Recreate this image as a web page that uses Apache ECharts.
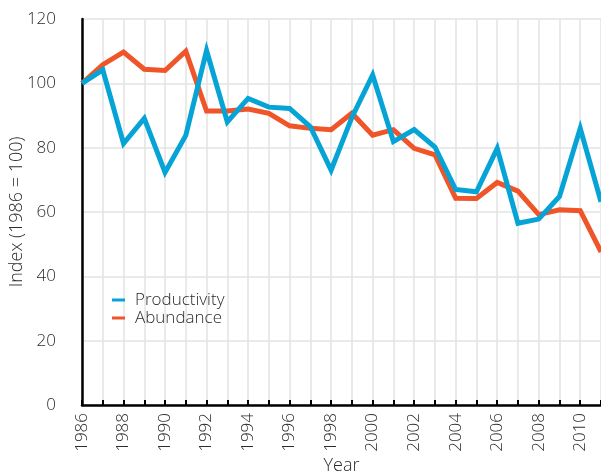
<!DOCTYPE html>
<html>
<head>
<meta charset="utf-8">
<style>
  html, body { margin: 0; padding: 0; background: #fff; }
  #chart { width: 601px; height: 473px; }
</style>
<script src="https://cdn.jsdelivr.net/npm/echarts@6/dist/echarts.min.js"></script>
</head>
<body>
<div id="chart"></div>
<script>
// Years on the x axis
const years = ['1986','1987','1988','1989','1990','1991','1992','1993','1994','1995',
  '1996','1997','1998','1999','2000','2001','2002','2003','2004','2005',
  '2006','2007','2008','2009','2010','2011'];

// Index values, 1986 = 100
const productivity = [100, 104.2, 81.3, 89.1, 72.3, 83.8, 110.2, 88.0, 95.3, 92.6,
  92.2, 86.5, 73.0, 89.4, 102.6, 81.9, 85.6, 80.2, 67.0, 66.3,
  79.8, 56.5, 57.8, 64.8, 86.0, 63.2];
const abundance = [100, 105.8, 109.7, 104.4, 104.0, 110.0, 91.4, 91.4, 92.0, 90.7,
  86.8, 86.0, 85.6, 90.7, 83.9, 85.6, 79.8, 77.8, 64.3, 64.2,
  69.2, 66.5, 59.2, 60.7, 60.4, 47.6];

// Y axis range and step
const yMin = 0, yMax = 120, yStep = 20;

const textColor = '#2b2b2b';
const fontFamily = '"Open Sans", "Liberation Sans", Arial, sans-serif';
const fontWeight = 300;

const chart = echarts.init(document.getElementById('chart'), null, { renderer: 'canvas' });

chart.setOption({
  animation: false,
  backgroundColor: '#ffffff',
  textStyle: { fontFamily: fontFamily, color: textColor, fontWeight: fontWeight },
  grid: { left: 82, right: 0, top: 19, bottom: 68, containLabel: false, outerBoundsMode: 'none' },
  legend: {
    data: ['Productivity', 'Abundance'],
    orient: 'vertical',
    left: 107,
    top: 286,
    icon: 'rect',
    itemWidth: 13,
    itemHeight: 3,
    itemGap: 0,
    textStyle: { fontSize: 17, lineHeight: 18, color: textColor, fontFamily: fontFamily, fontWeight: fontWeight, padding: [0, 0, 0, 5] }
  },
  xAxis: {
    type: 'category',
    data: years,
    boundaryGap: false,
    name: 'Year',
    nameLocation: 'middle',
    nameGap: 52,
    nameMoveOverlap: false,
    nameTextStyle: { fontSize: 18, color: textColor, fontFamily: fontFamily, fontWeight: fontWeight },
    axisLine: { lineStyle: { color: '#000', width: 2.5 } },
    axisTick: { show: true, inside: true, length: 5, interval: 0, lineStyle: { color: '#000', width: 2 } },
    axisLabel: {
      interval: 1,
      rotate: 90,
      margin: 8,
      fontSize: 17,
      color: textColor,
      fontFamily: fontFamily,
      fontWeight: fontWeight
    },
    splitLine: { show: true, interval: 0, lineStyle: { color: '#e3e3e3', width: 1.5 } }
  },
  yAxis: {
    type: 'value',
    min: yMin,
    max: yMax,
    interval: yStep,
    name: 'Index (1986 = 100)',
    nameLocation: 'middle',
    nameGap: 56,
    nameMoveOverlap: false,
    nameTextStyle: { fontSize: 18, color: textColor, fontFamily: fontFamily, fontWeight: fontWeight },
    axisLine: { show: true, lineStyle: { color: '#000', width: 2.5 } },
    axisTick: { show: false },
    axisLabel: { margin: 26, fontSize: 17, color: textColor, fontFamily: fontFamily, fontWeight: fontWeight },
    splitLine: { show: true, lineStyle: { color: '#e3e3e3', width: 1.5 } }
  },
  series: [
    {
      name: 'Abundance',
      type: 'line',
      data: abundance,
      showSymbol: false,
      symbol: 'none',
      color: '#ef5529',
      lineStyle: { width: 5, color: '#ef5529', join: 'miter' },
      z: 2
    },
    {
      name: 'Productivity',
      type: 'line',
      data: productivity,
      showSymbol: false,
      symbol: 'none',
      color: '#06a4d6',
      lineStyle: { width: 5, color: '#06a4d6', join: 'miter' },
      z: 3
    }
  ]
});
</script>
</body>
</html>
